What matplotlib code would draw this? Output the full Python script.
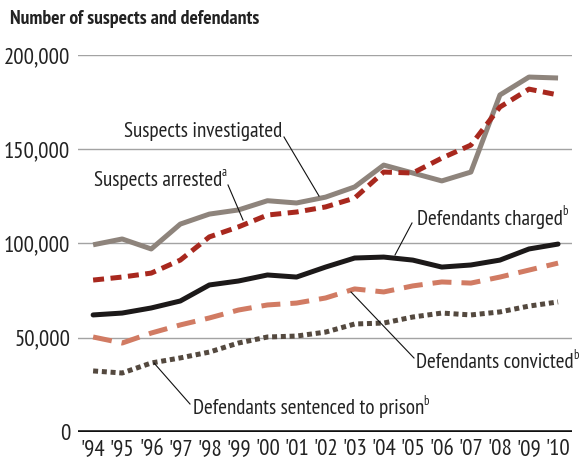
import matplotlib
matplotlib.use("Agg")
import matplotlib.pyplot as plt
from matplotlib.font_manager import fontManager

names = {f.name for f in fontManager.ttflist}
prefs = ["Myriad Pro Condensed", "PT Sans Narrow", "Roboto Condensed", "Fira Sans Condensed",
         "Open Sans Condensed", "Archivo Narrow", "Asap Condensed", "Encode Sans Condensed",
         "Liberation Sans Narrow", "Liberation Sans"]
FONT = next((p for p in prefs if p in names), "DejaVu Sans")
plt.rcParams['font.family'] = [FONT, 'DejaVu Sans']

years = ["'94", "'95", "'96", "'97", "'98", "'99", "'00", "'01", "'02",
         "'03", "'04", "'05", "'06", "'07", "'08", "'09", "'10"]
investigated = [99300, 102400, 97100, 110300, 115600, 117800, 122700, 121500, 124600,
                130000, 141600, 137400, 133200, 137900, 178800, 188300, 187800]
arrested = [80600, 82200, 84300, 91200, 103500, 108800, 115100, 116700, 119400,
            124100, 137900, 137400, 145300, 152200, 172400, 181900, 178800]
charged = [62100, 63100, 65800, 69500, 78000, 80100, 83300, 82200, 87500,
           92300, 92800, 91200, 87500, 88600, 91200, 97100, 99700]
convicted = [50400, 47200, 52500, 56800, 60500, 64700, 67400, 68400, 71100,
             75900, 74300, 77500, 79600, 79000, 82200, 85900, 89600]
prison = [32400, 31300, 36600, 39300, 42400, 47200, 50400, 50900, 53000,
          57300, 57800, 61000, 63100, 62100, 63700, 66800, 69000]
yticks = [0, 50000, 100000, 150000, 200000]
ytick_labels = ["0", "50,000", "100,000", "150,000", "200,000"]

fig = plt.figure(figsize=(5.8, 4.61), dpi=100)
ax = fig.add_axes([78/580, 29/461, (572-78)/580, (432-55)/461])
x = list(range(len(years)))

for yv in yticks[1:]:
    ax.axhline(yv, color="#a3a3a3", lw=1.0, zorder=1)
ax.axhline(0, color="#111111", lw=2.6, zorder=5)

lw = 3.6
ax.plot(x, investigated, color="#8e847c", lw=lw, solid_capstyle="butt", zorder=3)
ax.plot(x, arrested, color="#a8281e", lw=lw, dashes=(2.2, 1.3), zorder=4)
ax.plot(x, charged, color="#1c1919", lw=lw, solid_capstyle="round", zorder=4)
ax.plot(x, convicted, color="#d17b63", lw=lw, dashes=(3.8, 2.0), zorder=4)
ax.plot(x, prison, color="#54493f", lw=lw, dashes=(1.0, 0.75), zorder=4)

ax.set_xlim(-0.52, 16.48)
ax.set_ylim(0, 200000)
ax.set_yticks(yticks)
ax.set_yticklabels(ytick_labels)
ax.set_xticks(x)
ax.set_xticklabels(years)
ax.tick_params(axis="both", length=0, labelsize=16.5, colors="#222222")
ax.tick_params(axis="y", pad=5.5)
ax.tick_params(axis="x", pad=5)
for s in ax.spines.values():
    s.set_visible(False)

fig.text(10/580, 1 - 19/461, "Number of suspects and defendants", fontsize=14.2,
         fontweight="bold", color="#222222", ha="left", va="center")

def px(xp, yp):
    return (xp / 580, 1 - yp / 461)

annos = [
    ("Suspects investigated", (282, 131), "right", (284, 137), (319, 196)),
    ("Suspects arrested", (222, 180), "right", (228, 185), (243, 220)),
    ("Defendants charged", (417, 219), "left", (412, 223), (395, 255)),
    ("Defendants convicted", (416, 362), "left", (414, 358), (351, 292)),
    ("Defendants sentenced to prison", (193, 408), "left", (190, 404), (154, 363)),
]
sups = ["", "a", "b", "b", "b"]
fig.canvas.draw()
for (text, pos, ha, p1, p2), sup in zip(annos, sups):
    t = fig.text(*px(*pos), text, fontsize=15.2, color="#222222", ha=ha, va="center")
    if sup:
        bb = t.get_window_extent(renderer=fig.canvas.get_renderer())
        fig.text((bb.x1 - 0.5) / 580, (bb.y1 - 9) / 461, sup, fontsize=9,
                 color="#222222", ha="left", va="bottom")
    fig.add_artist(plt.Line2D([p1[0]/580, p2[0]/580], [1 - p1[1]/461, 1 - p2[1]/461],
                              color="#111111", lw=0.8, zorder=10))

fig.savefig("out.png", dpi=100)
